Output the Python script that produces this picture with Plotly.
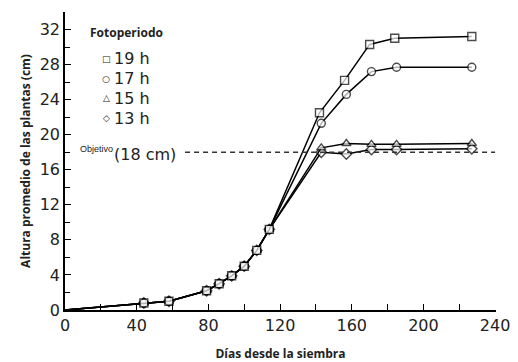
import plotly.graph_objects as go

# Growth shared by every photoperiod until the curves split
common_days = [0, 44, 58, 79, 86, 93, 100, 107, 114]
common_height = [0, 0.8, 1.0, 2.2, 3.0, 3.9, 5.0, 6.8, 9.2]

# Per-photoperiod growth after the split
series_names = ["13 h", "15 h", "17 h", "19 h"]
series_symbols = ["diamond", "triangle-up", "circle", "square"]
late_days = {
    "19 h": [142, 156, 170, 184, 227],
    "17 h": [143, 157, 171, 185, 227],
    "15 h": [143, 157, 171, 185, 227],
    "13 h": [143, 157, 171, 185, 227],
}
late_height = {
    "19 h": [22.5, 26.2, 30.3, 31.0, 31.2],
    "17 h": [21.3, 24.6, 27.2, 27.7, 27.7],
    "15 h": [18.5, 19.0, 18.9, 18.9, 19.0],
    "13 h": [18.0, 17.8, 18.3, 18.3, 18.4],
}

# Target height reference line
target_cm = 18
target_span = [67, 240]

# Axis ticks
x_labels = [0, 40, 80, 120, 160, 200, 240]
y_labels = [0, 4, 8, 12, 16, 20, 24, 28, 32]

legend_order = ["19 h", "17 h", "15 h", "13 h"]
legend_glyphs = {"19 h": "□", "17 h": "○", "15 h": "△", "13 h": "◇"}

fig = go.Figure()

for name, sym in zip(series_names, series_symbols):
    xs = common_days + late_days[name]
    ys = common_height + late_height[name]
    sizes = [0] + [8] * (len(xs) - 1)
    fig.add_trace(go.Scatter(
        x=xs, y=ys, mode="lines+markers", name=name,
        line=dict(color="black", width=1.5),
        marker=dict(symbol=sym, size=sizes, color="white",
                    line=dict(color="black", width=1.4)),
        showlegend=False,
    ))

fig.add_trace(go.Scatter(
    x=target_span, y=[target_cm, target_cm], mode="lines",
    line=dict(color="#333333", width=1.3, dash="5px,4px"),
    showlegend=False, hoverinfo="skip",
))

tick_font = dict(family="DejaVu Sans", size=16, color="#222222")
title_font = dict(family="Open Sans", size=12, color="#222222", weight=700)

annotations = [
    dict(x=7.5, y=target_cm, xref="x", yref="y", text="Objetivo",
         showarrow=False, xanchor="left", yanchor="middle", yshift=3,
         font=dict(family="Liberation Sans", size=9, color="#222222")),
    dict(x=26, y=target_cm, xref="x", yref="y", text="(18 cm)",
         showarrow=False, xanchor="left", yanchor="middle", yshift=-2,
         font=dict(family="DejaVu Sans", size=16, color="#222222")),
    dict(x=13, y=31.7, xref="x", yref="y", text="Fotoperiodo",
         showarrow=False, xanchor="left", yanchor="middle",
         font=dict(family="Open Sans", size=12, color="#222222", weight=700)),
]

legend_y = [28.65, 26.4, 24.15, 21.9]
for name, ly in zip(legend_order, legend_y):
    annotations.append(dict(
        x=23, y=ly, xref="x", yref="y", text=legend_glyphs[name],
        showarrow=False, xanchor="center", yanchor="middle",
        font=dict(family="DejaVu Sans", size=9, color="#222222")))
    annotations.append(dict(
        x=26.5, y=ly, xref="x", yref="y", text=name,
        showarrow=False, xanchor="left", yanchor="middle",
        font=dict(family="DejaVu Sans", size=16, color="#222222")))

fig.update_layout(
    width=518, height=362,
    margin=dict(l=64.5, r=21.5, t=12, b=52),
    paper_bgcolor="white", plot_bgcolor="white",
    annotations=annotations,
    xaxis=dict(
        range=[0, 240.5], showline=True, linecolor="black", linewidth=1.5,
        showgrid=False, zeroline=False, automargin=False,
        tickvals=x_labels, ticks="inside", ticklen=6, tickwidth=1.3,
        tickcolor="black", tickfont=tick_font,
        minor=dict(dtick=20, ticks="inside", ticklen=6, tickwidth=1.3,
                   tickcolor="black", showgrid=False),
        title=dict(text="Días desde la siembra", font=title_font, standoff=21),
    ),
    yaxis=dict(
        range=[0, 34], showline=True, linecolor="black", linewidth=1.5,
        showgrid=False, zeroline=False, automargin=False,
        tickvals=y_labels, ticks="inside", ticklen=6, tickwidth=1.3,
        tickcolor="black", tickfont=tick_font,
        minor=dict(dtick=2, ticks="inside", ticklen=5, tickwidth=1.3,
                   tickcolor="black", showgrid=False),
        title=dict(text="Altura promedio de las plantas (cm)", font=title_font,
                   standoff=6),
    ),
)

fig.write_html("out.html")
